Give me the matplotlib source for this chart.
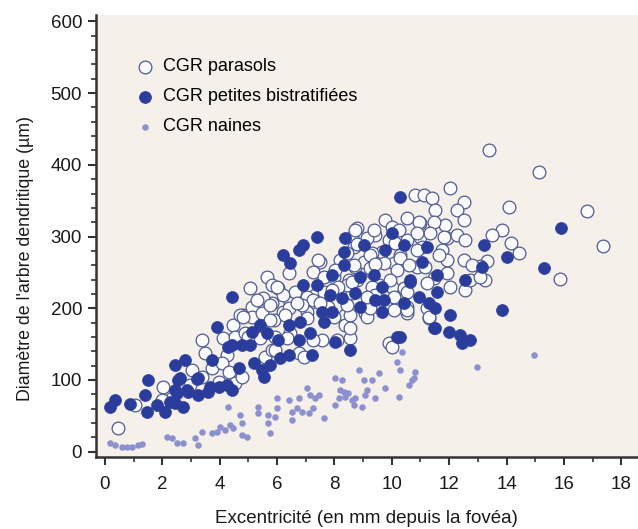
import matplotlib
matplotlib.use("Agg")
import matplotlib.pyplot as plt
from matplotlib.ticker import MultipleLocator

plt.rcParams["font.family"] = ["Liberation Sans", "DejaVu Sans"]

# CGR parasols (open circles): eccentricity (mm), dendritic field diameter (um)
parasol_x = [13.38, 15.12, 16.81, 17.37, 15.86, 14.08, 13.85, 13.5, 14.14, 14.43, 13.32, 13.09, 13.26,
             12.04, 10.82, 11.11, 11.4, 12.5, 12.27, 11.52, 12.5, 11.87, 11.46, 10.53, 9.77, 8.78, 9.43,
             10.01, 10.99, 10.99, 10.53, 9.89, 9.13, 8.61, 9.66, 10.3, 11.05, 11.93, 12.27, 12.56, 11.75,
             11.93, 12.5, 11.93, 12.56, 11.46, 10.88, 10.07, 9.31, 8.73, 8.2, 7.51, 7.27, 7.62, 8.78, 9.54,
             10.01, 9.77, 10.53, 11.23, 11.28, 9.07, 8.38, 7.79, 7.33, 8.61, 12.74,
             10.94, 11.81, 11.34, 10.88, 10.24, 9.37, 8.67, 9.31, 10.12, 11.64, 10.88, 10.3, 9.72, 9.02,
             8.44, 8.5, 9.25, 10.18, 10.59, 11.17, 12.8, 13.09, 12.04, 11.23, 10.41, 9.95, 9.31, 10.07, 9.43,
             7.44, 5.64, 6.40, 6.05, 5.82, 6.46, 4.8, 5.35, 6.22, 7.15, 7.03, 8.67, 9.25, 7.97, 7.62, 7.03,
             6.63, 6.22, 5.52, 5.12, 8.43, 9.43,
             0.47, 2.04, 3.38, 4.48, 4.71, 5.12, 5.47, 5.76, 5.82, 4.13, 4.54, 4.89, 4.25, 3.49, 3.03, 3.72,
             4.07, 4.31, 3.38, 4.54, 4.77, 5.58, 5.82, 5.93, 2.33, 1.98, 1.05, 2.97, 3.96,
             5.05, 6.40, 5.88, 6.45, 5.93, 6.75, 6.93, 7.56, 8.55, 8.38, 7.97, 8.55, 9.13, 9.25, 9.13, 10.07,
             9.89, 10.0, 10.53, 10.53, 11.29, 7.27, 8.14, 5.29, 5.23, 6.86, 10.53,
             5.99, 4.83, 8.73, 8.78, 8.03, 7.91, 8.61, 8.43, 8.55, 7.5, 6.69, 6.28, 7.03, 5.76, 6.34, 7.27,
             8.08, 5.41, 5.0]
parasol_y = [420.8, 390.5, 336.1, 287.3, 240.9, 340.9, 309.3, 302.4, 290.8, 276.9, 265.3, 258.3, 239.7,
             367.4, 358, 358, 353.4, 348.7, 337.1, 337.1, 323.1, 316.2, 320.9, 325.5, 323.1, 311.5, 302.2,
             313.8, 318.5, 299.9, 295.3, 295.3, 297.6, 299.9, 279, 274.4, 286, 297.6, 302.2, 295.3, 281.3,
             267.4, 267.4, 248.8, 225.6, 241.8, 258.1, 262.7, 251.1, 258.1, 267.4, 265.1, 251.1, 244.1, 239.5, 232.5,
             230.2, 206.9, 202.3, 200, 186, 193, 190.6, 202.3, 218.6, 221, 239.5,
             320, 300, 304.6, 304.6, 309, 309, 286, 276.9, 291, 274, 281, 269.7, 262.7, 265,
             276.9, 239.5, 255.8, 253.5, 260.5, 258, 260, 244, 230, 235, 228, 239.5, 230, 216, 218.6,
             267.4, 244.1, 248.8, 227.9, 207, 207, 190.7, 190.7, 195.3, 207, 195.3, 260, 274.4, 244, 223, 216,
             223, 218.6, 214, 202.3, 232, 262,
             32.6, 90.7, 155.8, 176.7, 190.6, 188, 193, 204.6, 232.5, 158, 160.5, 165, 135, 137.2, 114, 116.3,
             123.3, 111.6, 104.6, 95.3, 104.6, 132.6, 141.9, 160.5, 74.4, 72.1, 65.1, 93, 97.7,
             227.9, 200, 183.7, 165, 141.9, 137.2, 132.6, 155.8, 158.1, 176.7, 188.3, 190.7, 188.3, 200, 216.3, 197.7,
             151.2, 146.5, 193, 223.2, 188.3, 211.6, 230.2, 211.6, 160.5, 204.6, 197.7,
             230.2, 188.3, 309, 290, 253, 225, 237, 204, 172, 207, 207, 190.7, 186, 183.7, 158, 156,
             156, 158, 160.5]

# CGR petites bistratifiees (filled circles)
bistrat_x = [0.17, 0.35, 0.87, 1.40, 1.51, 1.45, 1.80, 2.09, 2.27, 2.44, 2.73, 2.50, 2.91, 2.44, 2.79, 2.62,
             3.26, 3.26, 3.61, 3.66, 3.96, 4.25, 4.42, 3.72, 3.90, 4.42, 4.42, 4.77, 5.06, 5.12, 5.41, 5.64,
             4.66, 5.18, 5.47, 5.76,
             6.92, 7.39, 7.85, 8.26, 8.73, 8.90, 9.66, 9.72, 9.66, 10.41, 10.65, 10.94, 11.29, 11.46, 5.53,
             6.05, 6.40, 6.81, 7.16, 7.22, 7.56, 7.62, 8.03, 8.55, 10.18, 7.91, 6.40, 6.75, 6.11,
             6.22, 6.46, 6.75, 6.92, 7.39, 8.38, 8.32, 9.02, 8.32, 7.91, 8.90, 9.37, 9.43,
             10.30, 10.01, 9.77, 10.41, 11.23, 11.05, 10.64, 11.58, 12.56, 13.14, 13.2, 14.02, 11.58,
             11.52, 12.04, 11.52, 11.99, 12.39, 12.74, 12.45, 13.85, 10.30,
             15.88, 15.30, 2.56, 2.44, 2.85, 3.2, 4.3]
bistrat_y = [62.8, 72.1, 66.5, 79.1, 100, 55.8, 65.1, 55.8, 69.8, 67.4, 62.8, 81.4, 83.7, 121, 127.9, 102.3,
             102.3, 79.1, 83.7, 90.7, 90.7, 93, 86, 127.9, 174.3, 216.2, 148.8, 148.8, 148.8, 167.4, 176.7, 165,
             116.3, 123.3, 114, 121,
             232.5, 232.5, 218.6, 214, 220.9, 202.3, 230.2, 211.6, 195.3, 207, 237, 216.3, 207, 172, 104.6,
             155.8, 176.7, 181.4, 165, 134.9, 195.3, 181.4, 153.5, 141.9, 160.5, 195.3, 134.9, 155.8, 130.2,
             274.3, 262.7, 281.3, 288.2, 299.8, 297.5, 278.9, 288.2, 260.3, 246.4, 244.1, 246.4, 211.6,
             355.6, 304.5, 281.3, 288.2, 285.9, 264.9, 239.5, 246.4, 239.5, 258.1, 288, 271.6, 223.2,
             200, 190.7, 172.1, 167.4, 162.8, 156, 151.2, 197.7, 160,
             311.6, 255.8, 100, 86, 86, 102, 146]

# CGR naines (small dots)
naine_x = [0.17, 0.35, 0.58, 0.76, 0.93, 1.16, 1.28, 2.15, 2.33, 2.50, 2.73, 3.14, 3.26, 3.37, 3.72, 3.90,
           4.01, 4.19, 4.36, 4.48, 4.30, 4.71, 4.77, 4.94, 4.77,
           5.35, 5.35, 5.70, 5.70, 5.76, 5.99, 5.99, 5.93, 6.40, 6.52, 6.52, 6.69, 6.75, 6.87, 7.04, 7.16,
           7.10, 7.33, 7.27, 7.45, 7.62, 8.03, 8.03, 8.15, 8.20, 8.26, 8.32, 8.38, 8.49, 8.61, 8.67, 8.73,
           8.84, 8.96, 9.02, 9.08, 9.13, 9.31, 9.43, 9.54, 9.78, 10.24, 10.18, 10.30, 10.36, 10.59, 10.70,
           10.82, 10.76, 12.97, 14.95]
naine_y = [11.7, 9.4, 7.0, 7.0, 7.0, 9.4, 10.8, 20.9, 18.7, 11.7, 11.7, 18.7, 9.4, 27.9, 25.6, 27.9,
           34.9, 30.2, 37.2, 32.5, 62.8, 51.2, 23.3, 20.9, 39.6,
           62.8, 53.5, 51.2, 39.6, 25.6, 74.4, 60.5, 48.8, 72.1, 55.8, 44.2, 60.5, 74.4, 55.8, 88.4, 79.1,
           53.5, 74.4, 60.5, 79.1, 46.5, 102.3, 65.1, 74.4, 86, 100, 83.7, 76.7, 81.4, 72.1, 65.1, 74.4,
           113.9, 62.8, 100, 79.1, 86, 100, 74.4, 109.3, 88.4, 76.7, 125.6, 113.9, 139.5, 93, 100,
           111.6, 102.3, 118.5, 134.9]

fig = plt.figure(figsize=(6.38, 5.29), dpi=100)
ax = fig.add_axes([0.1505, 0.1367, 0.849, 0.835])
ax.set_facecolor("#f5f0e9")

ax.scatter(parasol_x, parasol_y, s=84, facecolor="#fbfbfd", edgecolor="#4f5a92",
           linewidths=0.9, label="CGR parasols", zorder=2)
ax.scatter(bistrat_x, bistrat_y, s=74, color="#2b3d9c", edgecolor="#2b3d9c",
           linewidths=0.5, label="CGR petites bistratifiées", zorder=3)
ax.scatter(naine_x, naine_y, s=22, color="#8d90cf", linewidths=0,
           label="CGR naines", zorder=4)

ax.set_xlim(-0.31, 18.57)
ax.set_ylim(-7, 609)
ax.xaxis.set_major_locator(MultipleLocator(2))
ax.xaxis.set_minor_locator(MultipleLocator(1))
ax.yaxis.set_major_locator(MultipleLocator(100))
ax.yaxis.set_minor_locator(MultipleLocator(20))

for side in ("top", "right"):
    ax.spines[side].set_visible(False)
for side in ("left", "bottom"):
    ax.spines[side].set_linewidth(1.8)
    ax.spines[side].set_color("#333333")

ax.tick_params(which="major", length=6, width=1.5, color="#333333", labelsize=13.5,
               labelcolor="#1a1a1a")
ax.tick_params(which="minor", length=3.5, width=1.2, color="#333333")
ax.tick_params(axis="x", which="major", pad=8)
ax.tick_params(axis="y", which="major", pad=4)

ax.set_xlabel("Excentricité (en mm depuis la fovéa)", fontsize=13.5, color="#1a1a1a", labelpad=12)
ax.set_ylabel("Diamètre de l'arbre dendritique (µm)", fontsize=12.8, color="#1a1a1a")
ax.yaxis.set_label_coords(-0.115, 0.448)

ax.legend(loc="upper left", bbox_to_anchor=(0.058, 0.918), frameon=False, fontsize=13,
          scatterpoints=1, handletextpad=0.45, labelspacing=0.72, borderaxespad=0,
          handlelength=1.1)

fig.savefig("out.png", dpi=100)
